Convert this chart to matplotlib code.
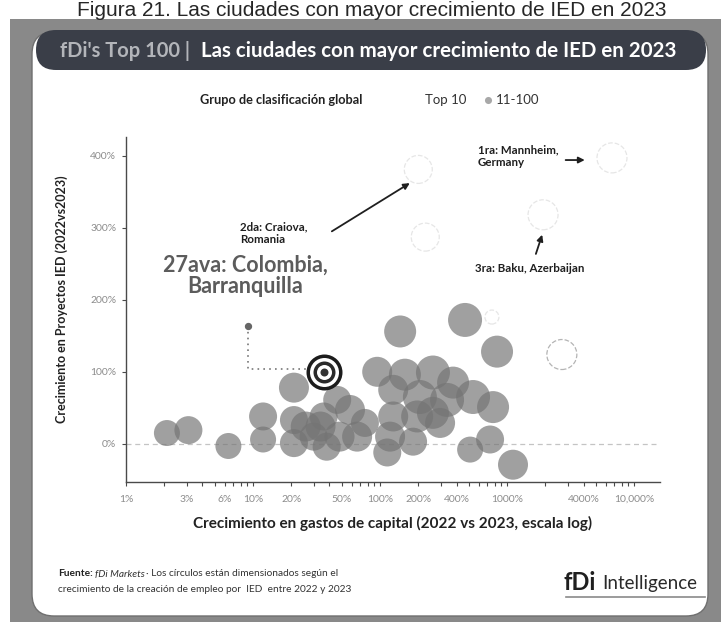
import numpy as np
import matplotlib
matplotlib.use('Agg')
import matplotlib.pyplot as plt
from matplotlib.patches import Rectangle, FancyBboxPatch
from matplotlib.ticker import FixedLocator, LogLocator, NullFormatter

plt.rcParams['font.family'] = ['Lato', 'DejaVu Sans']

# --- data ---
# cities ranked 11-100: capex growth (%), project growth (%), relative bubble size (jobs growth)
capex_11_100 = [2.1, 3.1, 6.4, 12, 12, 21, 21, 21, 26, 30, 34, 36, 38, 46, 48, 58, 66, 76, 95, 114,
                120, 127, 127, 144, 157, 182, 196, 206, 261, 261, 297, 337, 376, 467, 512, 540, 735, 776, 834, 1114]
proj_11_100 = [15, 19, -3, 6, 38, 78, 33, 1, 24, 10, 24, 38, -4, 61, 10, 47, 10, 29, 100, -12,
               10, 38, 75, 156, 96, 3, 38, 65, 99, 43, 29, 61, 85, 172, -8, 65, 6, 51, 128, -29]
jobs_11_100 = [26, 28, 26, 26, 28, 30, 28, 28, 30, 28, 30, 28, 28, 28, 30, 30, 30, 28, 30, 28,
               30, 30, 30, 32, 32, 28, 32, 34, 34, 32, 30, 34, 32, 34, 26, 34, 28, 32, 32, 30]

# top 10 cities (very faint in the scan)
capex_top10 = [6700, 200, 1920, 227, 2700, 760]
proj_top10 = [397, 381, 318, 287, 124, 176]
jobs_top10 = [30, 28, 30, 28, 30, 14]

# Barranquilla, Colombia (27th)
capex_col = 36
proj_col = 100

xticks = [1, 3, 6, 10, 20, 50, 100, 200, 400, 1000, 4000, 10000]
xtick_labels = ['1%', '3%', '6%', '10%', '20%', '50%', '100%', '200%', '400%', '1000%', '4000%', '10,000%']
yticks = [0, 100, 200, 300, 400]
ytick_labels = ['0%', '100%', '200%', '300%', '400%']

W, H = 721, 622
fig = plt.figure(figsize=(W / 100, H / 100), dpi=100)
fig.patch.set_facecolor('white')

# background layer in pixel units
bg = fig.add_axes([0, 0, 1, 1], zorder=0)
bg.set_xlim(0, W)
bg.set_ylim(H, 0)
bg.axis('off')

bg.add_patch(Rectangle((10, 19), W - 10, H - 19, color='#898989', lw=0))
bg.add_patch(FancyBboxPatch((32, 32), 676, 584, boxstyle='round,pad=0,rounding_size=22',
                            fc='white', ec='#6f6f6f', lw=1))
bg.add_patch(FancyBboxPatch((36, 30), 670, 40, boxstyle='round,pad=0,rounding_size=20',
                            fc='#3a3e48', ec='none'))

bg.text(372, 16, 'Figura 21. Las ciudades con mayor crecimiento de IED en 2023',
        ha='center', va='baseline', fontsize=15, color='#262626', family='Liberation Sans')
bg.text(60, 51, "fDi's Top 100 |", ha='left', va='center', fontsize=14.5,
        fontweight='bold', color='#b3b5ba')
bg.text(201, 51, 'Las ciudades con mayor crecimiento de IED en 2023', ha='left', va='center',
        fontsize=14.8, fontweight='bold', color='white')

# legend
bg.text(200, 100, 'Grupo de clasificación global', ha='left', va='center', fontsize=9.2,
        fontweight='bold', color='#222222')
bg.text(425, 100, 'Top 10', ha='left', va='center', fontsize=9.5, color='#333333')
bg.scatter([488], [100], s=26, color='#a8a8a8', lw=0)
bg.text(496, 100, '11-100', ha='left', va='center', fontsize=9.5, color='#333333')

# footer
bg.text(58, 574, 'Fuente:', ha='left', va='center', fontsize=7.3, fontweight='bold', color='#222222')
bg.text(95, 574, 'fDi Markets', ha='left', va='center', fontsize=7.3, style='italic', color='#333333')
bg.text(146, 574, '· Los círculos están dimensionados según el', ha='left', va='center',
        fontsize=7.3, color='#333333')
bg.text(58, 589, 'crecimiento de la creación de empleo por  IED  entre 2022 y 2023', ha='left',
        va='center', fontsize=7.3, color='#333333')
bg.text(564, 582, 'fDi', ha='left', va='center', fontsize=17, fontweight='bold', color='#1f1f1f')
bg.text(602, 584, 'Intelligence', ha='left', va='center', fontsize=13.5, color='#2a2a2a')
bg.plot([566, 705], [597, 597], color='#8a8a8a', lw=1.2)

# main chart
ax = fig.add_axes([126 / W, 140 / H, 534 / W, 345 / H], zorder=1)
ax.set_facecolor('none')
ax.set_xscale('log')
ax.set_xlim(1, 16000)
ax.set_ylim(-53, 426)

ax.axhline(0, color='#c4c4c4', lw=0.9, ls=(0, (4, 3)), zorder=1)

sizes = (0.72 * np.array(jobs_11_100)) ** 2
ax.scatter(capex_11_100, proj_11_100, s=sizes, color='#747474', alpha=0.68, lw=0, zorder=2)

# top 10 circles are nearly washed out, except one dashed outline
sizes_top = (0.72 * np.array(jobs_top10)) ** 2
edges_top = ['#e6e6e6'] * len(capex_top10)
edges_top[4] = '#b4b4b4'
ax.scatter(capex_top10, proj_top10, s=sizes_top, facecolor='white', edgecolors=edges_top,
           lw=0.9, linestyle='--', zorder=3)

# Barranquilla target marker
for d, c in [(36, '#1c1c1c'), (29, 'white'), (22, '#2a2a2a'), (15, 'white'), (8, '#333333')]:
    ax.scatter([capex_col], [proj_col], s=(0.72 * d) ** 2, color=c, lw=0, zorder=4)

# leader line for Barranquilla
ax.plot([9.1, 9.1, 29], [164, 104, 104], color='#777777', lw=1.2, ls=(0, (1, 2.5)), zorder=3)
ax.scatter([9.1], [164], s=18, color='#666666', zorder=3)
ax.text(8.7, 233, '27ava: Colombia,\nBarranquilla', ha='center', va='center', fontsize=15.5,
        fontweight='bold', color='#5c5c5c', linespacing=1.05)

# labelled top cities
ax.annotate('', xy=(179, 364), xytext=(40, 293),
            arrowprops=dict(arrowstyle='-|>', color='#1f1f1f', lw=1.3, mutation_scale=9))
ax.text(7.9, 292, '2da: Craiova,\nRomania', ha='left', va='center', fontsize=8.3,
        fontweight='bold', color='#1f1f1f')

ax.annotate('', xy=(4300, 394), xytext=(2750, 394),
            arrowprops=dict(arrowstyle='-|>', color='#1f1f1f', lw=1.3, mutation_scale=9))
ax.text(590, 399, '1ra: Mannheim,\nGermany', ha='left', va='center', fontsize=8.3,
        fontweight='bold', color='#1f1f1f')

ax.annotate('', xy=(1920, 294), xytext=(1660, 260),
            arrowprops=dict(arrowstyle='-|>', color='#1f1f1f', lw=1.3, mutation_scale=9))
ax.text(560, 244, '3ra: Baku, Azerbaijan', ha='left', va='center', fontsize=8.3,
        fontweight='bold', color='#1f1f1f')

# axes styling
for side in ['top', 'right']:
    ax.spines[side].set_visible(False)
for side in ['left', 'bottom']:
    ax.spines[side].set_color('#4a4a4a')
    ax.spines[side].set_linewidth(1)

ax.xaxis.set_major_locator(FixedLocator(xticks))
ax.set_xticklabels(xtick_labels)
ax.xaxis.set_minor_locator(LogLocator(base=10, subs=np.arange(2, 10)))
ax.xaxis.set_minor_formatter(NullFormatter())
ax.set_yticks(yticks)
ax.set_yticklabels(ytick_labels)
ax.tick_params(axis='both', which='both', direction='out', color='#4a4a4a', labelcolor='#8c8c8c',
               labelsize=7.5, length=3, width=0.8)
ax.tick_params(axis='x', pad=6)
ax.tick_params(axis='y', pad=4)

ax.set_xlabel('Crecimiento en gastos de capital (2022 vs 2023, escala log)', fontsize=11,
              fontweight='bold', color='#222222', labelpad=9)
ax.set_ylabel('Crecimiento en Proyectos IED (2022vs2023)', fontsize=9,
              fontweight='bold', color='#222222')
ax.yaxis.set_label_coords(-0.108, 0.53)

fig.savefig('out.png', dpi=100)
